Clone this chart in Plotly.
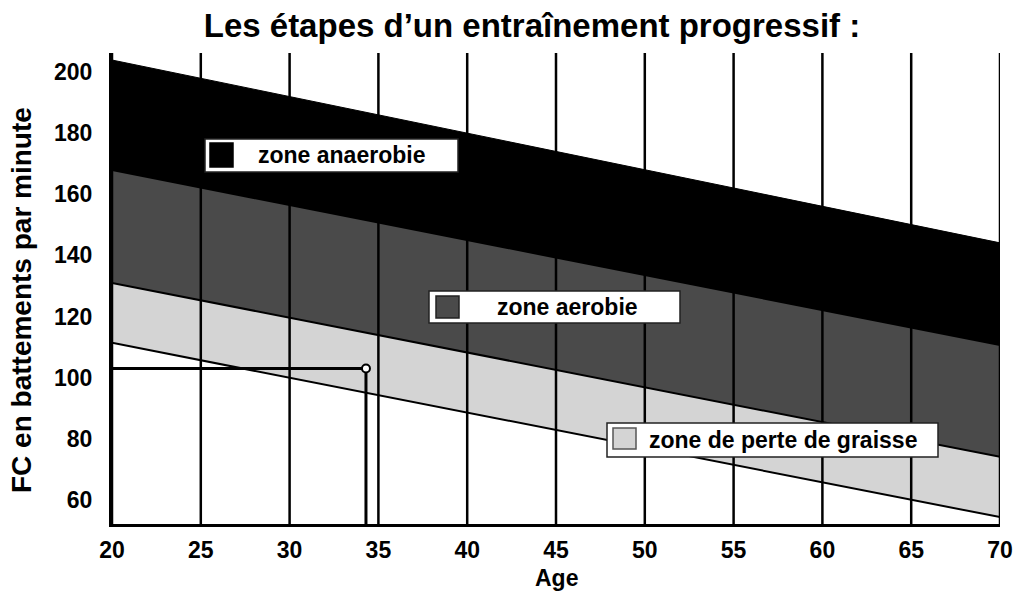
import plotly.graph_objects as go

# ---- data ----
ages = [20, 70]
fat_low = [111.4, 54.4]        # lower limit of "zone de perte de graisse"
fat_high = [131.0, 74.1]       # limit graisse / aerobie
aero_high = [167.9, 110.7]     # limit aerobie / anaerobie
anaero_high = [203.9, 144.1]   # upper limit (FC max)

example_age = 34.3
example_bpm = 103

x_ticks = [20, 25, 30, 35, 40, 45, 50, 55, 60, 65, 70]
y_ticks = [60, 80, 100, 120, 140, 160, 180, 200]

zone_labels = ["zone anaerobie", "zone aerobie", "zone de perte de graisse"]
zone_colors = ["#000000", "#4a4a4a", "#d4d4d4"]

# ---- layout constants (pixels) ----
W, H = 1014, 593
L, R, T, B = 112, 1000, 53, 524
Y_MIN, Y_MAX = 52.15, 206.2
FONT = "Arial, Liberation Sans, sans-serif"


def px2x(px):
    return (px - L) / (R - L)


def px2y(py):
    return (B - py) / (B - T)


fig = go.Figure()

line_style = dict(color="black", width=2)
fig.add_trace(go.Scatter(x=ages, y=fat_low, mode="lines", line=line_style,
                         showlegend=False, hoverinfo="skip"))
fig.add_trace(go.Scatter(x=ages, y=fat_high, mode="lines", line=line_style,
                         fill="tonexty", fillcolor=zone_colors[2],
                         showlegend=False, hoverinfo="skip"))
fig.add_trace(go.Scatter(x=ages, y=aero_high, mode="lines", line=line_style,
                         fill="tonexty", fillcolor=zone_colors[1],
                         showlegend=False, hoverinfo="skip"))
fig.add_trace(go.Scatter(x=ages, y=anaero_high, mode="lines", line=dict(color="black", width=1),
                         fill="tonexty", fillcolor=zone_colors[0],
                         showlegend=False, hoverinfo="skip"))

# example reading lines
fig.add_trace(go.Scatter(x=[ages[0], example_age, example_age],
                         y=[example_bpm, example_bpm, Y_MIN],
                         mode="lines", line=dict(color="black", width=3),
                         showlegend=False, hoverinfo="skip"))
fig.add_trace(go.Scatter(x=[example_age], y=[example_bpm], mode="markers",
                         marker=dict(size=8, color="white", line=dict(color="black", width=2)),
                         showlegend=False, hoverinfo="skip"))

shapes = []
# vertical grid lines above fills
for t in x_ticks:
    shapes.append(dict(type="line", xref="x", yref="paper", x0=t, x1=t, y0=0, y1=1,
                       line=dict(color="black", width=2.5), layer="above"))

# legend boxes
boxes = [
    # box (x0,y0,x1,y1), square (x0,y0,x1,y1), text center (x,y)
    ((205, 139, 458, 172), (210, 143, 233, 167), (341, 155)),
    ((429, 291, 680, 323), (436, 296, 459, 318), (567, 307)),
    ((607, 423, 938, 457), (613, 428, 636, 449), (783, 440)),
]
square_borders = ["#000000", "#222222", "#555555"]
annotations = []
for i, (bx, sq, tc) in enumerate(boxes):
    shapes.append(dict(type="rect", xref="paper", yref="paper",
                       x0=px2x(bx[0]), x1=px2x(bx[2]), y0=px2y(bx[3]), y1=px2y(bx[1]),
                       fillcolor="white", line=dict(color="#222222", width=1.5), layer="above"))
    shapes.append(dict(type="rect", xref="paper", yref="paper",
                       x0=px2x(sq[0]), x1=px2x(sq[2]), y0=px2y(sq[3]), y1=px2y(sq[1]),
                       fillcolor=zone_colors[i], line=dict(color=square_borders[i], width=1.5),
                       layer="above"))
    annotations.append(dict(text=zone_labels[i], xref="paper", yref="paper",
                            x=px2x(tc[0]), y=px2y(tc[1]), xanchor="center", yanchor="middle",
                            showarrow=False,
                            font=dict(family=FONT, size=23, color="black", weight="bold")))

annotations.append(dict(text="FC en battements par minute", xref="paper", yref="paper",
                        x=px2x(21), y=px2y(300), textangle=-90, xanchor="center",
                        yanchor="middle", showarrow=False,
                        font=dict(family=FONT, size=28, color="black", weight="bold")))
annotations.append(dict(text="Age", xref="paper", yref="paper",
                        x=px2x(556), y=px2y(578), xanchor="center", yanchor="middle",
                        showarrow=False,
                        font=dict(family=FONT, size=23, color="black", weight="bold")))

fig.update_layout(
    width=W, height=H,
    margin=dict(l=L, r=W - R, t=T, b=H - B),
    paper_bgcolor="white", plot_bgcolor="white",
    title=dict(text="Les étapes d’un entraînement progressif :",
               x=532 / W, xanchor="center", xref="container",
               y=1 - 25 / H, yanchor="middle", yref="container",
               font=dict(family=FONT, size=33, color="black", weight="bold")),
    shapes=shapes,
    annotations=annotations,
    xaxis=dict(range=[ages[0], ages[-1]], tickvals=x_ticks, ticktext=[str(v) for v in x_ticks],
               showgrid=False, zeroline=False, showline=True, linecolor="black", linewidth=3,
               ticks="", ticklabelstandoff=3, automargin=False,
               tickfont=dict(family=FONT, size=23, color="black", weight="bold")),
    yaxis=dict(range=[Y_MIN, Y_MAX], tickvals=y_ticks, ticktext=[str(v) for v in y_ticks],
               showgrid=False, zeroline=False, showline=True, linecolor="black", linewidth=3,
               ticks="", ticklabelstandoff=12, automargin=False,
               tickfont=dict(family=FONT, size=23, color="black", weight="bold")),
)

fig.write_html("out.html")
